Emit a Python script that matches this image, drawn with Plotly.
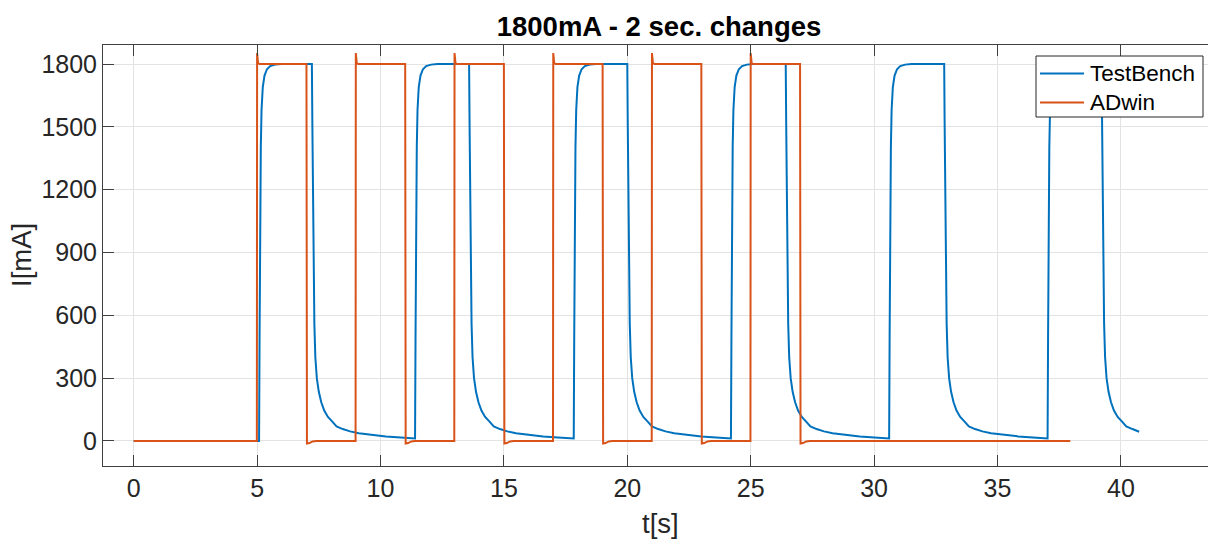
import plotly.graph_objects as go

# ---------------- data ----------------
# TestBench (blue) : time [s]
tb_time = [
    0.00, 5.08,
    5.10, 5.12, 5.15, 5.18, 5.23, 5.30, 5.40, 5.53, 5.73, 5.98,
    7.22, 7.24, 7.26, 7.29, 7.32, 7.36, 7.42, 7.50, 7.60, 7.72, 7.87, 8.02, 8.22, 8.47, 8.77, 9.12, 9.62, 10.22, 10.82, 11.32, 11.40,
    11.42, 11.44, 11.47, 11.50, 11.55, 11.62, 11.72, 11.85, 12.05, 12.30,
    13.59, 13.61, 13.63, 13.66, 13.69, 13.73, 13.79, 13.87, 13.97, 14.09, 14.24, 14.39, 14.59, 14.84, 15.14, 15.49, 15.99, 16.59, 17.19, 17.69, 17.83,
    17.85, 17.87, 17.90, 17.93, 17.98, 18.05, 18.15, 18.28, 18.48, 18.73,
    20.00, 20.02, 20.04, 20.07, 20.10, 20.14, 20.20, 20.28, 20.38, 20.50, 20.65, 20.80, 21.00, 21.25, 21.55, 21.90, 22.40, 23.00, 23.60, 24.10, 24.20,
    24.22, 24.24, 24.27, 24.30, 24.35, 24.42, 24.52, 24.65, 24.85, 25.10,
    26.42, 26.44, 26.46, 26.49, 26.52, 26.56, 26.62, 26.70, 26.80, 26.92, 27.07, 27.22, 27.42, 27.67, 27.97, 28.32, 28.82, 29.42, 30.02, 30.52, 30.61,
    30.63, 30.65, 30.68, 30.71, 30.76, 30.83, 30.93, 31.06, 31.26, 31.51,
    32.84, 32.86, 32.88, 32.91, 32.94, 32.98, 33.04, 33.12, 33.22, 33.34, 33.49, 33.64, 33.84, 34.09, 34.39, 34.74, 35.24, 35.84, 36.44, 36.94, 37.03,
    37.05, 37.07, 37.10, 37.13, 37.18, 37.25, 37.35, 37.48, 37.68, 37.93,
    39.22, 39.24, 39.26, 39.29, 39.32, 39.36, 39.42, 39.50, 39.60, 39.72, 39.87, 40.02, 40.22, 40.47, 40.74,
]
# TestBench (blue) : current [mA]
tb_current = [
    0, 0,
    500, 1000, 1400, 1580, 1690, 1745, 1775, 1790, 1797, 1800,
    1800, 1500, 1150, 800, 560, 400, 300, 235, 185, 145, 115, 96, 70, 57, 46, 37, 29, 22, 17, 13, 12,
    500, 1000, 1400, 1580, 1690, 1745, 1775, 1790, 1797, 1800,
    1800, 1500, 1150, 800, 560, 400, 300, 235, 185, 145, 115, 96, 70, 57, 46, 37, 29, 22, 17, 13, 12,
    500, 1000, 1400, 1580, 1690, 1745, 1775, 1790, 1797, 1800,
    1800, 1500, 1150, 800, 560, 400, 300, 235, 185, 145, 115, 96, 70, 57, 46, 37, 29, 22, 17, 13, 12,
    500, 1000, 1400, 1580, 1690, 1745, 1775, 1790, 1797, 1800,
    1800, 1500, 1150, 800, 560, 400, 300, 235, 185, 145, 115, 96, 70, 57, 46, 37, 29, 22, 17, 13, 12,
    500, 1000, 1400, 1580, 1690, 1745, 1775, 1790, 1797, 1800,
    1800, 1500, 1150, 800, 560, 400, 300, 235, 185, 145, 115, 96, 70, 57, 46, 37, 29, 22, 17, 13, 12,
    500, 1000, 1400, 1580, 1690, 1745, 1775, 1790, 1797, 1800,
    1800, 1500, 1150, 800, 560, 400, 300, 235, 185, 145, 115, 96, 70, 57, 44,
]

# ADwin (orange) : time [s]
adwin_time = [
    0.00, 4.99, 5.00, 5.04, 5.10, 7.00, 7.02, 7.12, 7.25, 7.40,
    8.99, 9.00, 9.04, 9.10, 11.00, 11.02, 11.12, 11.25, 11.40,
    12.99, 13.00, 13.04, 13.10, 15.00, 15.02, 15.12, 15.25, 15.40,
    16.99, 17.00, 17.04, 17.10, 19.00, 19.02, 19.12, 19.25, 19.40,
    20.99, 21.00, 21.04, 21.10, 23.00, 23.02, 23.12, 23.25, 23.40,
    24.99, 25.00, 25.04, 25.10, 27.00, 27.02, 27.12, 27.25, 27.40,
    37.95,
]
# ADwin (orange) : current [mA]
adwin_current = [
    0, 0, 1852, 1803, 1800, 1800, -12, -10, -2, 0,
    0, 1852, 1803, 1800, 1800, -12, -10, -2, 0,
    0, 1852, 1803, 1800, 1800, -12, -10, -2, 0,
    0, 1852, 1803, 1800, 1800, -12, -10, -2, 0,
    0, 1852, 1803, 1800, 1800, -12, -10, -2, 0,
    0, 1852, 1803, 1800, 1800, -12, -10, -2, 0,
    0,
]

series_names = ["TestBench", "ADwin"]
series_colors = ["#0072BD", "#D95319"]

x_ticks = [0, 5, 10, 15, 20, 25, 30, 35, 40]
y_ticks = [0, 300, 600, 900, 1200, 1500, 1800]

# ---------------- figure ----------------
FONT = "Liberation Sans, Arial, sans-serif"
TXT = "#262626"
W, H = 1208, 540
L, R, T, B = 103, 0, 45, 74
PW, PH = W - L - R, H - T - B


def px_x(px):  # page pixel -> paper x
    return (px - L) / PW


def px_y(py):  # page pixel -> paper y
    return (H - B - py) / PH


fig = go.Figure()
fig.add_trace(go.Scatter(x=tb_time, y=tb_current, mode="lines", name=series_names[0],
                         line=dict(color=series_colors[0], width=2)))
fig.add_trace(go.Scatter(x=adwin_time, y=adwin_current, mode="lines", name=series_names[1],
                         line=dict(color=series_colors[1], width=2)))

# legend box drawn MATLAB-style (box, line samples, labels)
shapes = [dict(type="rect", xref="paper", yref="paper",
               x0=px_x(1036), x1=px_x(1203), y0=px_y(117), y1=px_y(56),
               line=dict(color="#262626", width=1), fillcolor="white", layer="above")]
annotations = []
for i, (nm, col) in enumerate(zip(series_names, series_colors)):
    yy = px_y(73.5 + 29 * i)
    shapes.append(dict(type="line", xref="paper", yref="paper",
                       x0=px_x(1040), x1=px_x(1084), y0=yy, y1=yy,
                       line=dict(color=col, width=2), layer="above"))
    annotations.append(dict(text=nm, xref="paper", yref="paper", x=px_x(1088), y=yy,
                            xanchor="left", yanchor="middle", showarrow=False,
                            font=dict(size=22.5, color="#000000", family=FONT)))

annotations += [
    dict(text="t[s]", xref="paper", yref="paper", x=px_x(660), y=px_y(523),
         xanchor="center", yanchor="middle", showarrow=False,
         font=dict(size=27.5, color=TXT, family=FONT)),
    dict(text="I[mA]", xref="paper", yref="paper", x=px_x(21), y=px_y(255),
         xanchor="center", yanchor="middle", showarrow=False, textangle=-90,
         font=dict(size=27.5, color=TXT, family=FONT)),
]

fig.update_layout(
    width=W, height=H,
    margin=dict(l=L, r=R, t=T, b=B, autoexpand=False),
    paper_bgcolor="white", plot_bgcolor="white",
    font=dict(family=FONT, color=TXT, size=25),
    title=dict(text="<b>1800mA - 2 sec. changes</b>", x=px_x(659), xref="paper",
               y=1 - 26 / H, yref="container", xanchor="center", yanchor="middle",
               font=dict(size=27.5, color="#000000", family=FONT)),
    showlegend=False,
    xaxis=dict(range=[-1.244, 43.53], tickvals=x_ticks, ticktext=[str(v) for v in x_ticks],
               showgrid=True, gridcolor="#e3e3e3", gridwidth=1,
               showline=True, linecolor="#404040", linewidth=1, mirror="ticks",
               ticks="inside", ticklen=11, tickcolor="#404040",
               zeroline=False, tickfont=dict(size=25, color=TXT)),
    yaxis=dict(range=[-119.4, 1890.7], tickvals=y_ticks, ticktext=[str(v) for v in y_ticks],
               showgrid=True, gridcolor="#e3e3e3", gridwidth=1,
               showline=True, linecolor="#404040", linewidth=1, mirror=False,
               ticks="inside", ticklen=11, tickcolor="#404040",
               zeroline=False, tickfont=dict(size=25, color=TXT)),
    shapes=shapes,
    annotations=annotations,
)

fig.write_html("out.html",
               config={"displayModeBar": False},
               post_script="document.body.style.margin='0';document.body.style.overflow='hidden';")
